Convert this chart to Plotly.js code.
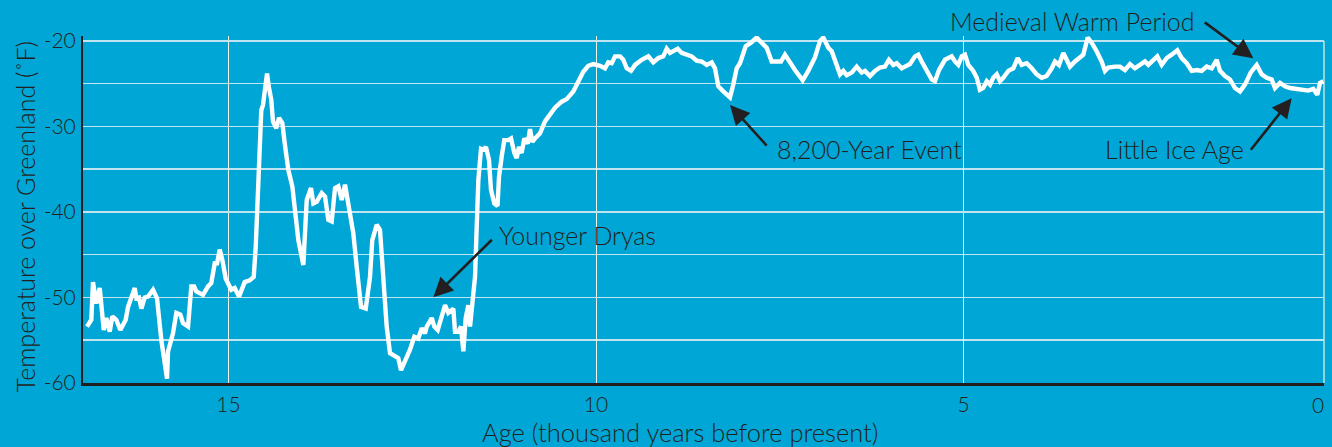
<!DOCTYPE html>
<html>
<head>
<meta charset="utf-8">
<script src="https://cdn.plot.ly/plotly-3.0.1.min.js"></script>
<style>html,body{margin:0;padding:0;background:#00a6d6;}#chart{width:1332px;height:447px;}</style>
</head>
<body>
<div id="chart"></div>
<script>
// Age (thousand years before present)
const ages = [
16.925,16.867,16.844,16.799,16.752,16.698,16.663,16.616,16.581,16.527,16.472,16.399,16.367,16.276,16.254,16.218,16.186,16.140,16.095,16.027,
15.973,15.914,15.837,15.823,15.755,15.710,15.656,15.619,15.551,15.506,15.469,15.438,15.347,15.279,15.234,15.220,15.188,15.156,15.120,15.084,
15.038,14.962,14.916,14.857,14.780,14.712,14.657,14.630,14.599,14.576,14.554,14.531,14.507,14.476,14.449,14.418,14.395,14.350,14.313,14.268,
14.235,14.186,14.132,14.095,14.050,13.982,13.936,13.878,13.846,13.800,13.732,13.687,13.642,13.596,13.551,13.506,13.460,13.415,13.361,13.302,
13.256,13.197,13.133,13.075,13.044,12.984,12.939,12.894,12.848,12.803,12.735,12.690,12.653,12.599,12.531,12.472,12.418,12.371,12.327,12.303,
12.235,12.200,12.154,12.099,12.054,12.010,11.941,11.918,11.873,11.837,11.805,11.773,11.737,11.714,11.683,11.646,11.623,11.601,11.565,11.533,
11.497,11.456,11.429,11.384,11.340,11.320,11.283,11.248,11.193,11.156,11.111,11.079,11.048,11.011,10.976,10.929,10.898,10.867,10.830,10.762,
10.694,10.626,10.558,10.467,10.399,10.309,10.241,10.173,10.105,10.037,9.946,9.878,9.833,9.786,9.741,9.673,9.629,9.582,9.524,9.469,
9.378,9.288,9.220,9.152,9.084,9.038,8.993,8.888,8.834,8.766,8.698,8.630,8.562,8.494,8.426,8.381,8.336,8.268,8.177,8.132,
8.086,8.041,7.963,7.891,7.814,7.746,7.678,7.610,7.541,7.483,7.429,7.361,7.293,7.188,7.112,7.020,6.952,6.907,6.839,6.793,
6.725,6.680,6.635,6.589,6.521,6.453,6.385,6.340,6.272,6.204,6.136,6.068,6.014,5.955,5.909,5.841,5.796,5.728,5.660,5.615,
5.569,5.501,5.433,5.388,5.333,5.252,5.161,5.116,5.071,5.024,4.980,4.935,4.867,4.820,4.776,4.731,4.684,4.639,4.595,4.548,
4.503,4.459,4.390,4.322,4.263,4.208,4.140,4.072,4.004,3.936,3.868,3.800,3.755,3.701,3.642,3.596,3.551,3.483,3.415,3.370,
3.310,3.256,3.188,3.120,3.075,3.030,2.939,2.871,2.803,2.735,2.667,2.599,2.531,2.486,2.418,2.363,2.303,2.235,2.167,2.091,
2.031,1.963,1.895,1.827,1.759,1.691,1.623,1.555,1.510,1.442,1.374,1.306,1.238,1.170,1.093,1.011,0.943,0.875,0.807,0.762,
0.694,0.626,0.558,0.467,0.377,0.309,0.241,0.186,0.150,0.105
];
// Temperature over Greenland (°F)
const temps = [
-53.4,-52.6,-48.2,-50.7,-48.9,-53.8,-52.4,-54.0,-52.2,-52.6,-53.8,-52.6,-51.1,-48.9,-50.1,-50.0,-51.3,-50.0,-49.9,-49.1,
-50.1,-55.0,-59.5,-56.3,-54.2,-51.8,-52.0,-53.0,-53.4,-48.7,-48.7,-49.3,-49.7,-48.7,-48.3,-47.4,-46.0,-46.0,-44.4,-45.6,
-47.8,-49.1,-48.9,-49.9,-48.2,-48.0,-47.6,-44.1,-38.6,-32.0,-28.1,-27.5,-25.7,-23.8,-25.5,-26.9,-29.4,-30.2,-29.0,-29.6,
-32.0,-35.1,-37.0,-39.8,-43.3,-46.2,-38.6,-37.2,-39.0,-38.8,-37.8,-38.2,-40.9,-41.1,-37.2,-37.0,-38.6,-36.8,-39.6,-42.5,
-46.4,-51.1,-51.3,-47.6,-43.3,-41.5,-42.1,-48.0,-53.4,-56.5,-56.9,-57.1,-58.5,-57.5,-56.1,-54.6,-54.8,-53.6,-54.2,-53.4,
-52.4,-53.4,-53.8,-52.2,-50.9,-51.8,-51.3,-54.0,-54.0,-53.4,-56.3,-52.4,-50.9,-53.4,-50.3,-47.6,-41.7,-36.3,-32.6,-32.7,
-32.4,-33.9,-37.4,-39.0,-39.3,-35.9,-33.5,-31.6,-31.6,-31.4,-33.1,-33.7,-32.4,-33.1,-31.4,-32.0,-30.3,-31.8,-31.4,-30.8,
-29.4,-28.5,-27.8,-27.1,-26.8,-25.9,-24.8,-23.6,-22.9,-22.7,-22.9,-23.2,-22.5,-22.6,-21.8,-21.8,-22.2,-23.2,-23.5,-22.8,
-22.2,-21.8,-22.5,-22.0,-21.8,-20.9,-21.4,-20.9,-21.4,-21.6,-21.8,-22.3,-22.4,-22.8,-22.5,-23.2,-25.3,-25.9,-26.6,-25.1,
-23.2,-22.6,-20.6,-20.2,-19.6,-20.2,-20.8,-22.4,-22.4,-22.4,-21.6,-22.6,-23.4,-24.6,-23.5,-21.9,-20.0,-19.6,-20.8,-21.2,
-22.8,-23.9,-23.5,-24.0,-23.7,-23.0,-23.7,-23.5,-24.1,-23.5,-23.1,-23.0,-22.2,-22.8,-22.6,-23.2,-23.0,-22.7,-21.8,-21.6,
-22.4,-23.5,-24.5,-24.7,-23.4,-22.2,-21.8,-22.4,-22.8,-21.8,-21.6,-22.8,-23.5,-24.3,-25.7,-25.5,-24.7,-25.1,-24.3,-23.9,
-24.7,-24.3,-23.5,-23.2,-22.0,-22.8,-22.6,-23.2,-23.9,-24.3,-24.1,-23.2,-22.4,-22.8,-21.4,-22.2,-23.0,-22.4,-22.0,-21.6,
-19.6,-20.2,-21.2,-22.4,-23.5,-23.1,-23.0,-23.0,-23.4,-22.7,-23.2,-22.8,-22.4,-22.8,-22.2,-21.8,-22.8,-22.0,-21.6,-21.1,
-22.0,-22.6,-23.5,-23.4,-23.5,-23.0,-23.2,-22.2,-23.5,-24.1,-24.5,-25.5,-25.9,-25.1,-23.7,-22.8,-23.9,-24.3,-24.5,-25.5,
-24.9,-25.3,-25.5,-25.6,-25.7,-25.8,-25.6,-26.3,-24.9,-24.7
];
const xTickVals = [15, 10, 5];
const xTickText = ['15', '10', '5'];
const yTickVals = [-60, -50, -40, -30, -20];
const yTickText = ['-60', '-50', '-40', '-30', '-20'];
const xTitle = 'Age (thousand years before present)';
const yTitle = 'Temperature over Greenland (˚F)';

const events = ['Younger Dryas', '8,200-Year Event', 'Medieval Warm Period', 'Little Ice Age'];
const eventHeadAge = [12.213, 8.177, 1.057, 0.535];
const eventHeadTemp = [-49.98, -27.49, -22.02, -26.70];
const eventLabelAge = [11.347, 7.565, 5.211, 1.156];
const eventLabelY = [-42.69, -32.63, 1.043, -32.63];
const eventLabelYRef = ['y', 'y', 'paper', 'y'];

const BG = '#00a6d6';
const INK = '#231f20';
const FONT = 'Lato, "Open Sans", sans-serif';

const anns = [];
const arrowOff = [[60, -59], [38, 42], [-50, -37], [-42, 53]];
const labelAnchor = ['left', 'left', 'left', 'right'];
for (let i = 0; i < events.length; i++) {
  anns.push({
    x: eventHeadAge[i], y: eventHeadTemp[i], xref: 'x', yref: 'y',
    text: '', showarrow: true, arrowhead: 2, arrowsize: 1.5, arrowwidth: 2.6,
    arrowcolor: INK, ax: arrowOff[i][0], ay: arrowOff[i][1], standoff: 0, startstandoff: 0
  });
  anns.push({
    x: eventLabelAge[i], y: eventLabelY[i], xref: 'x', yref: eventLabelYRef[i],
    text: events[i], showarrow: false, xanchor: labelAnchor[i], yanchor: 'middle',
    font: {family: FONT, size: 25, weight: 300, color: INK}
  });
}
// tick label "0" at the right edge
anns.push({x: 0.177, y: 0, xref: 'x', yref: 'paper', text: '0', showarrow: false,
  xanchor: 'center', yanchor: 'top', yshift: -7, font: {family: FONT, size: 21, weight: 300, color: INK}});
// axis titles
anns.push({x: 0.481, y: -0.1412, xref: 'paper', yref: 'paper', text: xTitle, showarrow: false,
  xanchor: 'center', yanchor: 'middle', font: {family: FONT, size: 25.5, weight: 300, color: INK}});
anns.push({x: -0.0467, y: 0.478, xref: 'paper', yref: 'paper', text: yTitle, showarrow: false,
  textangle: -90, xanchor: 'center', yanchor: 'middle', font: {family: FONT, size: 25, weight: 300, color: INK}});

const trace = {
  x: ages, y: temps, type: 'scatter', mode: 'lines',
  line: {color: '#ffffff', width: 4.4}, hoverinfo: 'skip'
};

const layout = {
  width: 1332, height: 447,
  margin: {l: 83, r: 8, t: 36, b: 64},
  paper_bgcolor: BG, plot_bgcolor: BG,
  showlegend: false,
  font: {family: FONT, color: INK, weight: 300},
  xaxis: {
    range: [16.98, 0.095], tickvals: xTickVals, ticktext: xTickText,
    showgrid: true, gridcolor: '#eef3e6', gridwidth: 1,
    zeroline: false, showline: true, linecolor: INK, linewidth: 3,
    ticks: 'outside', ticklen: 0.5, tickcolor: 'rgba(0,0,0,0)',
    tickfont: {family: FONT, size: 21, weight: 300, color: INK},
    automargin: false
  },
  yaxis: {
    range: [-60, -19.42], tickvals: yTickVals, ticktext: yTickText,
    showgrid: true, gridcolor: '#bfe6f0', gridwidth: 1.5,
    minor: {dtick: 5, tick0: -60, showgrid: true, gridcolor: '#bfe6f0', gridwidth: 1.5, ticks: ''},
    zeroline: false, showline: true, linecolor: INK, linewidth: 2.5,
    ticks: 'outside', ticklen: 0.5, tickcolor: 'rgba(0,0,0,0)',
    tickfont: {family: FONT, size: 21, weight: 300, color: INK},
    automargin: false
  },
  shapes: [{type: 'line', xref: 'paper', yref: 'y', x0: 1, x1: 1, y0: -60, y1: -20,
    line: {color: '#eef3e6', width: 1.2}, layer: 'below'}],
  annotations: anns
};

Plotly.newPlot('chart', [trace], layout, {staticPlot: true, displayModeBar: false});
</script>
</body>
</html>
